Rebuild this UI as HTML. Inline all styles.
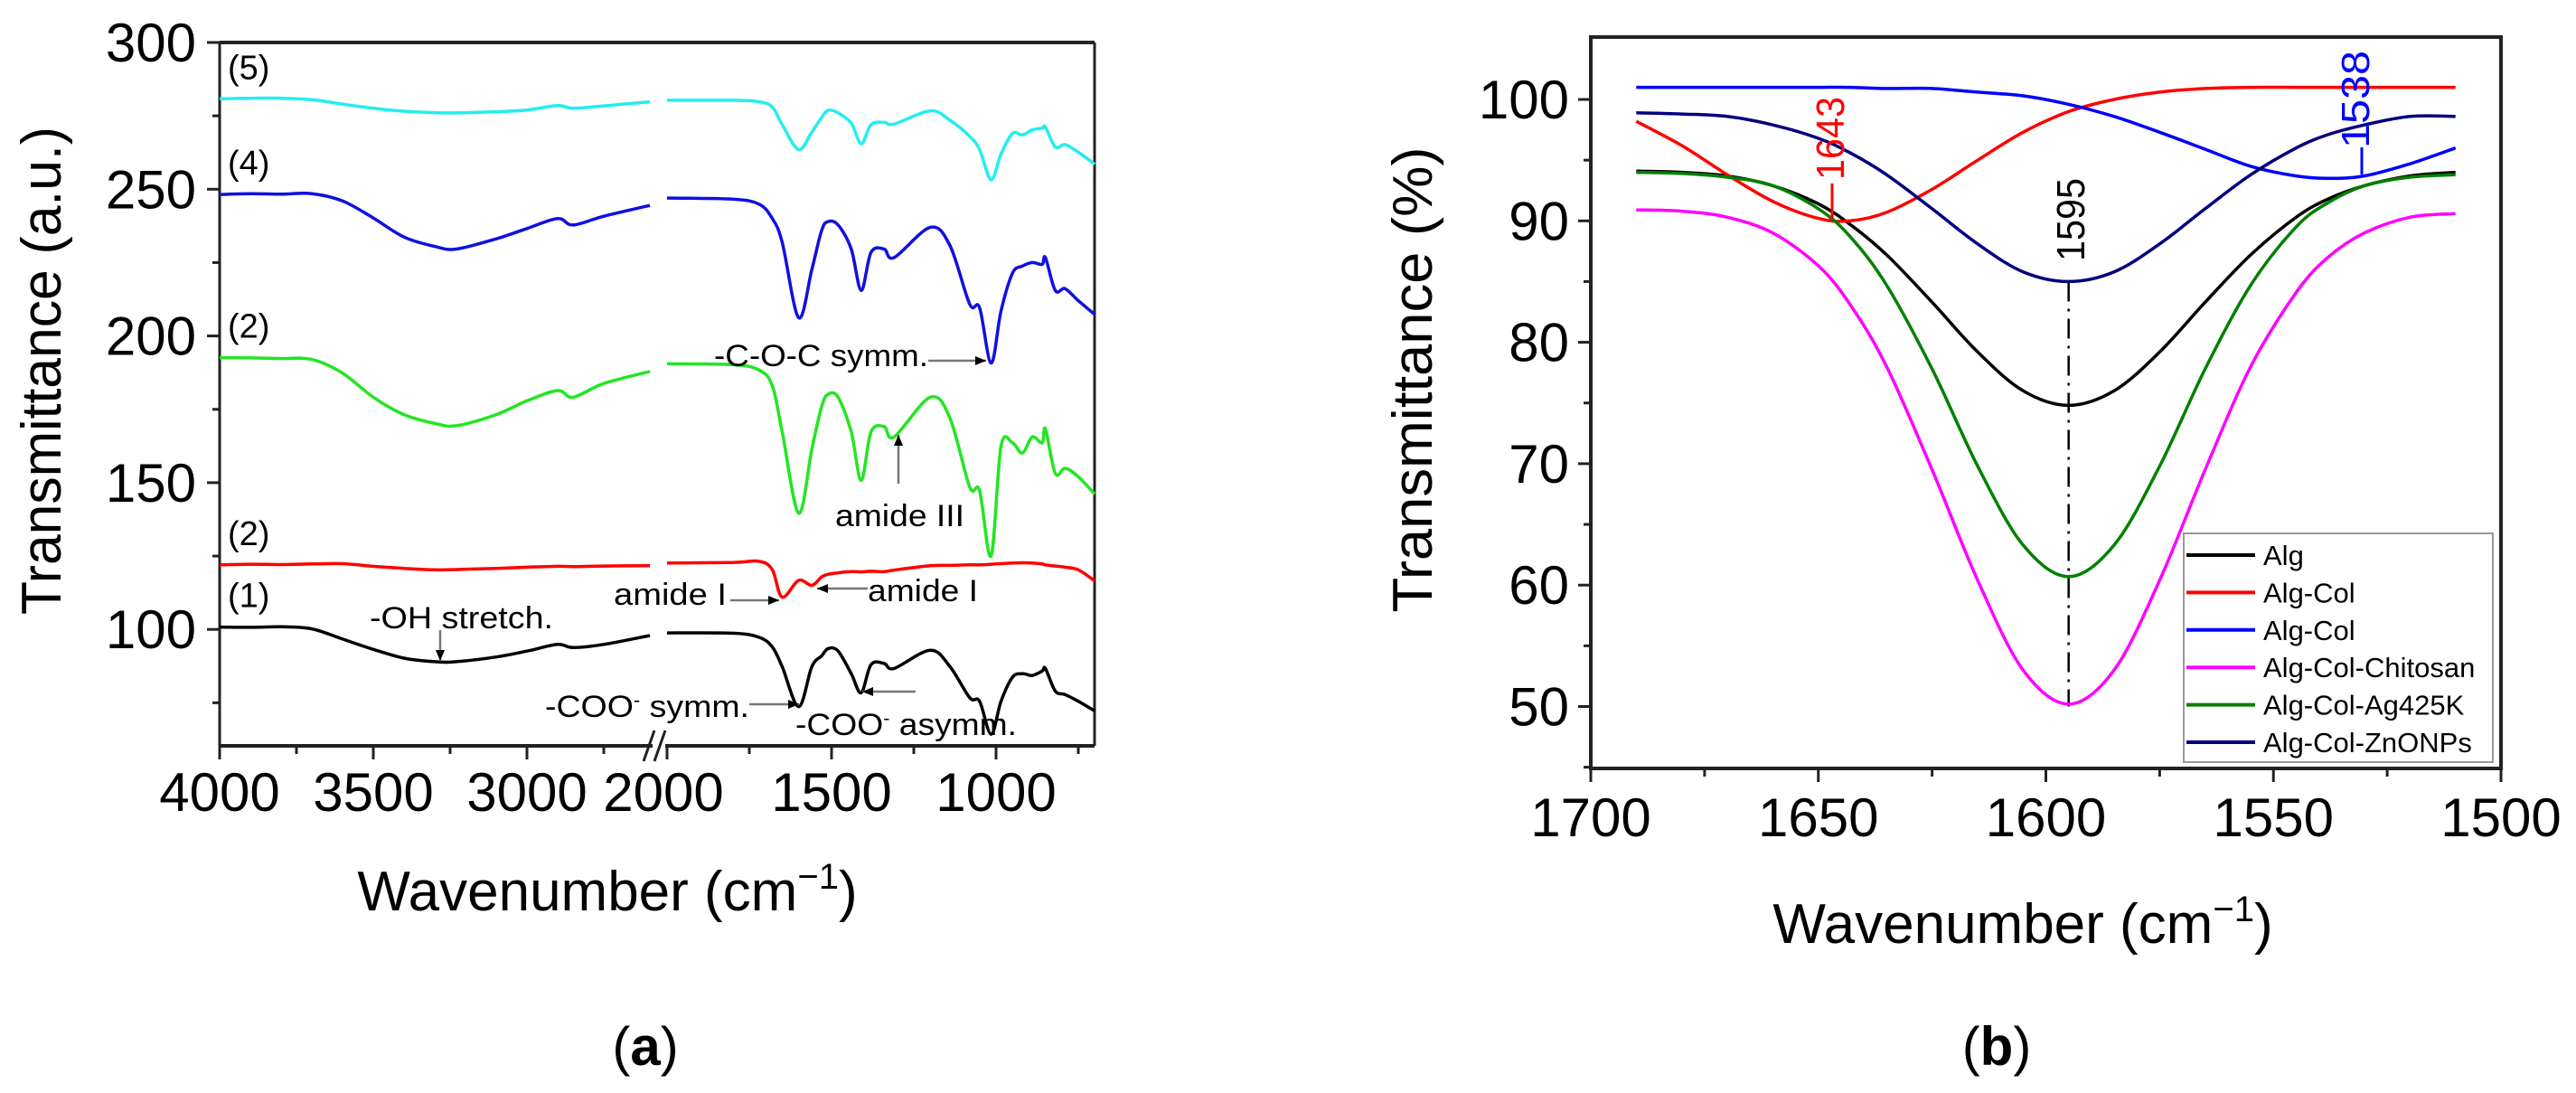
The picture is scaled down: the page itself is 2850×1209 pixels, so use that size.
<!DOCTYPE html>
<html><head><meta charset="utf-8"><style>
html,body{margin:0;padding:0;background:#fff;}
svg{display:block;}
text{font-family:"Liberation Sans",Arial,sans-serif;}
</style></head><body>
<svg id="fig" width="2850" height="1209" viewBox="0 0 2850 1209" xmlns="http://www.w3.org/2000/svg">
<g id="pa"></g>
<g id="pb"></g>
</svg>
<script>
// ---------- Panel (a) data ----------
const aLeftWn = [4000,3900,3800,3700,3600,3500,3400,3300,3230,3100,3000,2900,2850,2750,2600];
const aRightWn = [2000,1800,1720,1680,1650,1600,1560,1530,1510,1480,1440,1410,1380,1340,1310,1200,1140,1080,1050,1015,985,950,920,890,860,850,820,790,750,700];
const aS1Left = [100.8,100.7,100.9,100.2,96.7,93.2,90.2,89,89,90.6,92.6,94.9,93.8,94.9,97.9];
const aS1Right = [98.8,98.7,97.3,94,87.3,73.7,87.3,91,93.5,92.6,84.9,78.4,88,88.4,86.7,92.9,87.3,76.7,75.5,64.3,75.5,83.7,84.9,84.3,85.8,86.7,79,77.8,75.5,72.2];
const aS2Left = [122,122.2,122.1,122.3,122.4,121.5,120.8,120.3,120.4,120.8,121.2,121.5,121.4,121.6,121.7];
const aS2Right = [122.6,122.8,123.2,120.3,111,116.7,115,117.9,118.8,119.3,119.7,119.6,119.8,119.7,120.2,121.7,121.8,122,122,122.2,122.4,122.6,122.7,122.6,122.3,122,121.6,121.2,120.3,116.5];
const aS3Left = [192.6,192.5,192.3,192,187.3,179.1,173.2,170.2,169.4,173.2,177.9,181.4,179.1,183.8,187.9];
const aS3Right = [190.5,190.2,188.4,183,167.3,139.6,161.4,176,180.2,179.1,167.3,150.8,167.3,169.1,165.6,179.1,172,148.5,147.3,125,162.4,163.6,160.1,165.6,163.6,168.3,153.2,154.9,152,146.1];
const aS4Left = [248.2,248.5,248.3,248.5,246,240.2,233.7,230.5,229.6,233.1,236.6,240,237.8,240.8,244.5];
const aS4Right = [247,246.6,244.9,240,231.9,206.2,222.6,236,239,237.8,229.6,215.5,228.5,229.6,226.7,237,230.8,210.8,209.6,190.8,208.5,221.4,223.8,225,224.4,226.7,215.5,216.1,212,207.3];
const aS5Left = [280.8,281,281,280.5,279,277.6,276.6,276.1,276,276.4,277,278.5,277.6,278.4,279.8];
const aS5Right = [280.3,280.3,279.8,278,272,263.5,269.5,274.5,276.9,276,272.5,265.5,272,272.8,272.2,276.7,273.5,268,263.5,253.2,262,269,268.5,270.2,270.8,271.2,264.4,265.2,262.6,258.5];
const aYTicks = [100,150,200,250,300];
const aXTicksLeft = [4000,3500,3000];
const aXTicksRight = [2000,1500,1000];
const aXTickLabels = ["4000","3500","3000","2000","1500","1000"];
const aSeriesLabels = ["(1)","(2)","(2)","(4)","(5)"];

// ---------- Panel (b) data ----------
const bWn = [1690,1680,1670,1660,1650,1643,1635,1625,1615,1605,1595,1585,1575,1565,1555,1545,1538,1530,1520,1510];
const bAlg = [94.1,94.0,93.7,92.9,91.4,89.7,87.2,83.3,79.2,76.0,74.8,76.0,79.2,83.3,87.2,90.3,91.8,92.9,93.7,94.0];
const bAlgColRed = [98.2,96.2,93.8,91.6,90.2,90.0,90.7,92.6,95.0,97.3,99.0,100.0,100.6,100.9,101.0,101.0,101.0,101.0,101.0,101.0];
const bAlgColBlue = [101,101,101,101,101,101,100.9,100.9,100.6,100.3,99.6,98.6,97.3,95.9,94.5,93.7,93.5,93.7,94.7,96.0];
const bChitosan = [90.9,90.8,90.3,89.0,86.3,83.1,78.0,69.5,60.4,53.0,50.2,53.0,60.4,69.5,78.0,84.1,87.0,89.0,90.3,90.6];
const bAg = [94.0,93.9,93.6,92.9,91.0,88.7,84.7,77.8,69.8,63.3,60.7,63.3,69.8,77.8,84.7,89.5,91.5,92.9,93.6,93.8];
const bZn = [98.9,98.8,98.6,97.9,96.8,95.6,93.8,91.0,88.1,85.8,85.0,85.8,88.1,91.0,93.8,96.0,97.1,97.9,98.6,98.6];
const bLegend = ["Alg","Alg-Col","Alg-Col","Alg-Col-Chitosan","Alg-Col-Ag425K","Alg-Col-ZnONPs"];
const bYTicks = [50,60,70,80,90,100];
const bXTicks = [1700,1650,1600,1550,1500];

const NS = "http://www.w3.org/2000/svg";
function mk(parent, tag, attrs, txt) {
  const e = document.createElementNS(NS, tag);
  for (const k in attrs) e.setAttribute(k, attrs[k]);
  if (txt !== undefined) e.textContent = txt;
  parent.appendChild(e);
  return e;
}
function smooth(pts) {
  let d = "M" + pts[0][0].toFixed(1) + "," + pts[0][1].toFixed(1);
  for (let i = 0; i < pts.length - 1; i++) {
    const p0 = pts[Math.max(i - 1, 0)], p1 = pts[i], p2 = pts[i + 1], p3 = pts[Math.min(i + 2, pts.length - 1)];
    const c1x = p1[0] + (p2[0] - p0[0]) / 6, c1y = p1[1] + (p2[1] - p0[1]) / 6;
    const c2x = p2[0] - (p3[0] - p1[0]) / 6, c2y = p2[1] - (p3[1] - p1[1]) / 6;
    d += " C" + c1x.toFixed(1) + "," + c1y.toFixed(1) + " " + c2x.toFixed(1) + "," + c2y.toFixed(1) + " " + p2[0].toFixed(1) + "," + p2[1].toFixed(1);
  }
  return d;
}

// ================= Panel A =================
const pa = document.getElementById('pa');
const aL = 243, aR = 1211, aT = 47, aB = 825;
const ay = v => aT + (300 - v) * 3.246;
const axL = v => aL + (4000 - v) * 0.340;
const axR = v => 738 + (2000 - v) * 0.364;

// frame
let e;
e = mk(pa, 'line', {x1:aL, y1:aT, x2:aR, y2:aT, stroke:'#222', 'stroke-width':4});
 
e = mk(pa, 'line', {x1:aR, y1:aT, x2:aR, y2:aB, stroke:'#222', 'stroke-width':3});
 
e = mk(pa, 'line', {x1:aL, y1:aT, x2:aL, y2:aB, stroke:'#222', 'stroke-width':3});
 
e = mk(pa, 'line', {x1:aL, y1:aB, x2:722, y2:aB, stroke:'#222', 'stroke-width':4});
 
e = mk(pa, 'line', {x1:736, y1:aB, x2:aR, y2:aB, stroke:'#222', 'stroke-width':4});
 
e = mk(pa, 'path', {d:'M712,842 L724,808 M724,842 L736,808', stroke:'#222', 'stroke-width':3, fill:'none'});
 

// y ticks
aYTicks.forEach(v => {
  const t = mk(pa, 'line', {x1:aL - 14, y1:ay(v), x2:aL, y2:ay(v), stroke:'#222', 'stroke-width':3});
   
  const m = mk(pa, 'line', {x1:aL - 8, y1:ay(v - 25), x2:aL, y2:ay(v - 25), stroke:'#222', 'stroke-width':3});
   
  const l = mk(pa, 'text', {x:217, y:ay(v) + 21, 'text-anchor':'end', 'font-size':60}, String(v));
   
});
// x ticks
const aTickXs = aXTicksLeft.map(axL).concat(aXTicksRight.map(axR));
aTickXs.forEach((x, i) => {
  const t = mk(pa, 'line', {x1:x, y1:aB, x2:x, y2:aB + 15, stroke:'#222', 'stroke-width':3});
   
  const l = mk(pa, 'text', {x:(i === 3 ? x - 4 : x), y:897, 'text-anchor':'middle', 'font-size':60}, aXTickLabels[i]);
   
});
[3750,3250,2750].map(axL).concat([1750,1250,750].map(axR)).forEach(x => {
  const m = mk(pa, 'line', {x1:x, y1:aB, x2:x, y2:aB + 9, stroke:'#222', 'stroke-width':3});
   
});

// series
const aColors = ['#000000', '#ff0000', '#22e622', '#1010e0', '#22eef2'];
const aLefts = [aS1Left, aS2Left, aS3Left, aS4Left, aS5Left];
const aRights = [aS1Right, aS2Right, aS3Right, aS4Right, aS5Right];
const aNames = ['spectrum-1', 'spectrum-2-red', 'spectrum-2-green', 'spectrum-4', 'spectrum-5'];
for (let s = 0; s < 5; s++) {
  const p1 = mk(pa, 'path', {d:smooth(aLeftWn.map((w, i) => [axL(w), ay(aLefts[s][i])])), stroke:aColors[s], 'stroke-width':3.5, fill:'none'});
   
  const p2 = mk(pa, 'path', {d:smooth(aRightWn.map((w, i) => [axR(w), ay(aRights[s][i])])), stroke:aColors[s], 'stroke-width':3.5, fill:'none'});
   
  const lbl = mk(pa, 'text', {x:252, y:ay(aLefts[s][0]) - 22, 'font-size':38}, aSeriesLabels[s]);
   
}

// annotations
function ann(x, y, txt, len, name) {
  const t = mk(pa, 'text', {x:x, y:y, 'font-size':34, textLength:len, lengthAdjust:'spacingAndGlyphs'}, txt);
   
  return t;
}
function arrow(x1, y1, x2, y2, name) {
  const l = mk(pa, 'line', {x1:x1, y1:y1, x2:x2, y2:y2, stroke:'#777', 'stroke-width':2.5});
   
  const ang = Math.atan2(y2 - y1, x2 - x1), h = 12, w = 5;
  const bx = x2 - h * Math.cos(ang), by = y2 - h * Math.sin(ang);
  const px = -Math.sin(ang) * w, py = Math.cos(ang) * w;
  const hd = mk(pa, 'polygon', {points:`${x2},${y2} ${bx + px},${by + py} ${bx - px},${by - py}`, fill:'#000'});
   
}
ann(790, 405, '-C-O-C symm.', 237, 'coc-symm-label');
arrow(1027, 399, 1091, 399, 'coc-symm-arrow');
ann(924, 582, 'amide III', 143, 'amide-iii-label');
arrow(994, 535, 994, 481, 'amide-iii-arrow');
ann(679, 669, 'amide I', 125, 'amide-i-label-left');
arrow(808, 664, 862, 664, 'amide-i-arrow-left');
ann(960, 665, 'amide I', 122, 'amide-i-label-right');
arrow(960, 651, 904, 651, 'amide-i-arrow-right');
ann(409, 695, '-OH stretch.', 203, 'oh-stretch-label');
arrow(487, 697, 487, 731, 'oh-stretch-arrow');
const c1 = mk(pa, 'text', {x:603, y:793, 'font-size':34, textLength:226, lengthAdjust:'spacingAndGlyphs'});
 
c1.innerHTML = '-COO<tspan dy="-12" font-size="20">-</tspan><tspan dy="12"> symm.</tspan>';
arrow(829, 779, 884, 779, 'coo-symm-arrow');
const c2 = mk(pa, 'text', {x:880, y:813, 'font-size':34, textLength:245, lengthAdjust:'spacingAndGlyphs'});
 
c2.innerHTML = '-COO<tspan dy="-12" font-size="20">-</tspan><tspan dy="12"> asymm.</tspan>';
arrow(1013, 765, 954, 765, 'coo-asymm-arrow');

// titles
e = mk(pa, 'text', {x:0, y:0, 'font-size':62, 'text-anchor':'middle', textLength:540, lengthAdjust:'spacingAndGlyphs', transform:'translate(67,410) rotate(-90)'}, 'Transmittance (a.u.)');
 
e = mk(pa, 'text', {x:672, y:1007, 'font-size':62, 'text-anchor':'middle'});
 
e.innerHTML = 'Wavenumber (cm<tspan dy="-24" font-size="40">−1</tspan><tspan dy="24">)</tspan>';
e = mk(pa, 'text', {x:714, y:1178, 'font-size':60, 'text-anchor':'middle', 'font-family':'Liberation Serif, serif'});
 
e.innerHTML = '(<tspan font-weight="bold">a</tspan>)';

// ================= Panel B =================
const pb = document.getElementById('pb');
const bL = 1760, bR = 2767, bT = 41, bB = 850;
const by = v => 110 + (100 - v) * 13.43;
const bx = w => bL + (1700 - w) * 5.035;

e = mk(pb, 'rect', {x:bL, y:bT, width:bR - bL, height:bB - bT, fill:'none', stroke:'#222', 'stroke-width':4});
 
bYTicks.forEach(v => {
  const t = mk(pb, 'line', {x1:bL - 14, y1:by(v), x2:bL, y2:by(v), stroke:'#222', 'stroke-width':3});
   
  const m = mk(pb, 'line', {x1:bL - 8, y1:by(v - 5), x2:bL, y2:by(v - 5), stroke:'#222', 'stroke-width':3});
   
  const l = mk(pb, 'text', {x:1736, y:by(v) + 21, 'text-anchor':'end', 'font-size':60}, String(v));
   
});
bXTicks.forEach(w => {
  const t = mk(pb, 'line', {x1:bx(w), y1:bB, x2:bx(w), y2:bB + 15, stroke:'#222', 'stroke-width':3});
   
  const l = mk(pb, 'text', {x:bx(w), y:925, 'text-anchor':'middle', 'font-size':60}, String(w));
   
  if (w > 1500) {
    const m = mk(pb, 'line', {x1:bx(w - 25), y1:bB, x2:bx(w - 25), y2:bB + 9, stroke:'#222', 'stroke-width':3});
     
  }
});

// dash-dot line at 1595
e = mk(pb, 'line', {x1:bx(1595), y1:by(85), x2:bx(1595), y2:by(50), stroke:'#000', 'stroke-width':2.5, 'stroke-dasharray':'22,8,3,8'});
 

const bSeries = [bAlg, bAlgColRed, bAlgColBlue, bChitosan, bAg, bZn];
const bColors = ['#000000', '#ff0000', '#0000ff', '#ff00ff', '#008000', '#000080'];
const bNames = ['alg-curve', 'alg-col-red-curve', 'alg-col-blue-curve', 'chitosan-curve', 'ag425k-curve', 'znonps-curve'];
bSeries.forEach((s, k) => {
  const p = mk(pb, 'path', {d:smooth(bWn.map((w, i) => [bx(w), by(s[i])])), stroke:bColors[k], 'stroke-width':3.5, fill:'none'});
   
});

// peak labels
e = mk(pb, 'line', {x1:2027, y1:243, x2:2027, y2:203, stroke:'#ff0000', 'stroke-width':3});
 
e = mk(pb, 'text', {x:0, y:0, 'font-size':44, fill:'#ff0000', 'text-anchor':'middle', textLength:92, lengthAdjust:'spacingAndGlyphs', 'font-family':'DejaVu Sans, sans-serif', transform:'translate(2040,153) rotate(-90)'}, '1643');
 
e = mk(pb, 'line', {x1:2613, y1:193, x2:2613, y2:163, stroke:'#0000ff', 'stroke-width':3});
 
e = mk(pb, 'text', {x:0, y:0, 'font-size':44, fill:'#0000ff', 'text-anchor':'middle', textLength:108, lengthAdjust:'spacingAndGlyphs', 'font-family':'DejaVu Sans, sans-serif', transform:'translate(2621,110) rotate(-90)'}, '1538');
 
e = mk(pb, 'text', {x:0, y:0, 'font-size':44, fill:'#000', 'text-anchor':'middle', textLength:92, lengthAdjust:'spacingAndGlyphs', 'font-family':'DejaVu Sans, sans-serif', transform:'translate(2306,243) rotate(-90)'}, '1595');
 

// legend
e = mk(pb, 'rect', {x:2416, y:590, width:342, height:253, fill:'#fff', stroke:'#999', 'stroke-width':2});
 
bLegend.forEach((name, k) => {
  const yy = 614 + k * 41.4;
  const g = mk(pb, 'g', {});
   
  const ln = mk(g, 'line', {x1:2419, y1:yy, x2:2495, y2:yy, stroke:bColors[k], 'stroke-width':4});
   
  const t = mk(g, 'text', {x:2504, y:yy + 11, 'font-size':31}, name);
   
});

// titles
e = mk(pb, 'text', {x:0, y:0, 'font-size':62, 'text-anchor':'middle', textLength:515, lengthAdjust:'spacingAndGlyphs', transform:'translate(1584,420) rotate(-90)'}, 'Transmittance (%)');
 
e = mk(pb, 'text', {x:2238, y:1043, 'font-size':62, 'text-anchor':'middle'});
 
e.innerHTML = 'Wavenumber (cm<tspan dy="-24" font-size="40">−1</tspan><tspan dy="24">)</tspan>';
e = mk(pb, 'text', {x:2209, y:1178, 'font-size':60, 'text-anchor':'middle', 'font-family':'Liberation Serif, serif'});
 
e.innerHTML = '(<tspan font-weight="bold">b</tspan>)';
</script>
</body></html>
